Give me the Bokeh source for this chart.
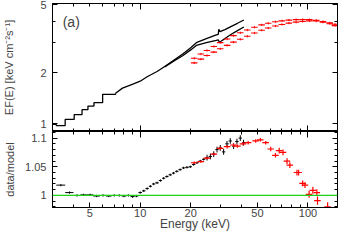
import numpy as np
from bokeh.plotting import figure
from bokeh.models import (LogAxis, LinearAxis, FixedTicker, NumeralTickFormatter,
                          Span, Label, Range1d)
from bokeh.layouts import column
from bokeh.embed import file_html
from bokeh.resources import INLINE

FONT = "Liberation Sans"

# ---------------- data ----------------
# top panel, black spectrum (low-energy stepped part, shared)
black_lo_E = [3.0, 3.16, 3.57, 4.04, 4.5, 4.88, 5.3, 5.97, 7.13]
black_lo_F = [0.99, 0.975, 1.06, 1.13, 1.21, 1.27, 1.33, 1.49, 1.51]
# black spectrum, detector A (upper)
black_a_E = [7.13, 7.84, 8.5, 9.2, 10.0, 11.0, 12.6, 14.0, 16.0, 18.0, 20.0, 21.6,
             24.8, 28.4, 29.2, 29.4, 29.9, 32.0, 34.7, 38.0, 41.5]
black_a_F = [1.51, 1.62, 1.67, 1.72, 1.78, 1.89, 2.03, 2.17, 2.38, 2.58, 2.80, 3.0,
             3.17, 3.33, 3.36, 3.6, 3.48, 3.58, 3.73, 3.9, 4.08]
# black spectrum, detector B (lower)
black_b_E = [14.0, 16.0, 18.0, 20.0, 21.6, 24.8, 28.4, 29.2, 29.6, 30.3, 32.0, 34.7, 38.0, 41.5]
black_b_F = [2.16, 2.35, 2.52, 2.72, 2.89, 3.0, 3.09, 3.12, 3.02, 3.06, 3.17, 3.35, 3.53, 3.71]

# top panel, red spectra
red_E = [21, 23, 25, 27.5, 30, 33, 36, 39.5, 43.5, 48, 53, 58, 64, 70, 77, 85, 93,
         102, 112, 123, 135, 145]
red_lo_F = [2.28, 2.40, 2.52, 2.64, 2.76, 2.89, 3.02, 3.14, 3.27, 3.42, 3.55, 3.66,
            3.76, 3.84, 3.91, 3.96, 4.0, 4.03, 4.02, 3.96, 3.88, 3.78]
red_hi_F = [2.43, 2.57, 2.70, 2.85, 3.0, 3.15, 3.3, 3.43, 3.56, 3.7, 3.82, 3.9,
            3.98, 4.03, 4.07, 4.1, 4.1, 4.1, 4.06, 4.0, 3.92, 3.85]

# bottom panel, black ratio (bin edges + values)
black_ratio_edges = [3.16, 3.57, 4.0, 4.4, 4.8, 5.25, 5.75, 6.25, 6.75, 7.25,
                     7.75, 8.25, 8.75, 9.25, 9.75, 10.25, 10.75, 11.25, 11.75, 12.3,
                     12.9, 13.5, 14.1, 14.75, 15.45, 16.15, 16.9, 17.7, 18.55, 19.45,
                     20.35, 21.3, 22.3, 23.35, 24.45, 25.6, 26.8, 28.05, 29.35, 30.7,
                     32.15, 33.65, 35.2, 36.85, 38.6, 40.4, 42.2]
black_ratio_val = [1.018, 1.005, 1.0, 1.001, 1.001, 0.999, 1.0, 0.999, 1.0, 1.0,
                   0.999, 1.0, 0.998, 0.999, 1.005, 1.008, 1.012, 1.016, 1.020, 1.022,
                   1.026, 1.030, 1.033, 1.036, 1.039, 1.042, 1.045, 1.048, 1.049, 1.050,
                   1.054, 1.057, 1.060, 1.063, 1.066, 1.068, 1.072, 1.080, 1.083, 1.076,
                   1.090, 1.095, 1.086, 1.094, 1.100, 1.092]

# bottom panel, red ratio
red_ratio_E = [21, 23, 25, 27.5, 30, 33, 36, 38, 41, 44, 48.8, 52, 56, 60, 64, 67.4,
               71, 75, 78, 86, 88, 93, 96, 101.6, 107, 113, 114, 131]
red_ratio_val = [1.057, 1.059, 1.065, 1.072, 1.082, 1.085, 1.088, 1.086, 1.090, 1.092,
                 1.095, 1.097, 1.092, 1.081, 1.070, 1.078, 1.075, 1.060, 1.053, 1.040,
                 1.040, 1.021, 1.018, 1.002, 1.009, 1.005, 0.991, 0.980]
red_ratio_err = [0.002, 0.002, 0.002, 0.002, 0.003, 0.003, 0.003, 0.003, 0.003, 0.003,
                 0.003, 0.003, 0.003, 0.004, 0.004, 0.005, 0.005, 0.005, 0.005, 0.005,
                 0.005, 0.005, 0.005, 0.006, 0.006, 0.006, 0.007, 0.008]

x_ticks_major = [10, 100]
x_ticks_minor = [3, 4, 5, 6, 7, 8, 9, 20, 30, 40, 50, 60, 70, 80, 90]
x_label_ticks = [5, 10, 20, 50, 100]
x_label_minor = [3, 4, 6, 7, 8, 9, 30, 40, 60, 70, 80, 90]
top_y_ticks = [1, 2, 5]
top_y_minor = [3, 4]
bot_y_ticks = [1, 1.05, 1.1]
bot_y_minor = [0.98, 0.99, 1.01, 1.02, 1.03, 1.04, 1.06, 1.07, 1.08, 1.09, 1.11]

RED = "#ff0000"
GREEN = "#19d219"
HW = 0.045  # relative half-width of red bins

W = 338
LEFT = 47


def style_axis(ax, show_labels, major_in, minor_in=3):
    ax.major_tick_in = major_in
    ax.major_tick_out = 0
    ax.minor_tick_in = minor_in
    ax.minor_tick_out = 0
    ax.axis_line_color = "black"
    ax.major_tick_line_color = "black"
    ax.minor_tick_line_color = "black"
    ax.major_label_text_font = FONT
    ax.axis_label_text_font = FONT
    ax.axis_label_text_font_style = "normal"
    if show_labels:
        ax.major_label_text_font_size = "11px"
        ax.major_label_standoff = 6
    else:
        ax.major_label_text_font_size = "1px"
        ax.major_label_text_color = None
        ax.major_label_standoff = 0


# ---------------- top panel ----------------
x_range = Range1d(3.0, 150.0)
p1 = figure(width=W, height=131, x_axis_type="log", y_axis_type="log",
            x_range=x_range, y_range=Range1d(0.9, 5.1),
            output_backend="svg", toolbar_location=None,
            min_border_left=LEFT, min_border_right=1, min_border_top=3,
            min_border_bottom=0)
p1.grid.visible = False
p1.outline_line_color = "black"

xb = p1.xaxis[0]
xb.ticker = FixedTicker(ticks=x_ticks_major, minor_ticks=x_ticks_minor)
style_axis(xb, False, 6)
xa = LogAxis(ticker=FixedTicker(ticks=x_ticks_major, minor_ticks=x_ticks_minor))
style_axis(xa, False, 6)
p1.add_layout(xa, "above")

yl = p1.yaxis[0]
yl.ticker = FixedTicker(ticks=top_y_ticks, minor_ticks=top_y_minor)
yl.formatter = NumeralTickFormatter(format="0")
style_axis(yl, True, 5)
yl.axis_label = "EF(E) [keV cm\u207b\u00b2s\u207b\u00b9]"
yl.axis_label_text_font_size = "11px"
yl.axis_label_standoff = 22
yr = LogAxis(ticker=FixedTicker(ticks=top_y_ticks, minor_ticks=top_y_minor))
style_axis(yr, False, 5)
p1.add_layout(yr, "right")

p1.step(black_lo_E, black_lo_F, mode="after", line_color="black", line_width=1.3)
p1.line(black_a_E, black_a_F, line_color="black", line_width=1.3)
p1.line(black_b_E, black_b_F, line_color="black", line_width=1.3)

rE = np.array(red_E, dtype=float)
for F in (np.array(red_lo_F), np.array(red_hi_F)):
    p1.segment(x0=rE * (1 - HW), x1=rE * (1 + HW), y0=F, y1=F, line_color=RED, line_width=1.1)
    p1.segment(x0=rE, x1=rE, y0=F * 0.985, y1=F * 1.015, line_color=RED, line_width=1.0)

p1.add_layout(Label(x=3.45, y=3.95, text="(a)", text_font=FONT, text_font_size="14px",
                    text_baseline="middle"))

# ---------------- bottom panel ----------------
p2 = figure(width=W, height=102, x_axis_type="log",
            x_range=x_range, y_range=Range1d(0.979, 1.1115),
            output_backend="svg", toolbar_location=None,
            min_border_left=LEFT, min_border_right=1, min_border_top=0,
            min_border_bottom=0)
p2.grid.visible = False
p2.outline_line_color = "black"

xb2 = p2.xaxis[0]
xb2.ticker = FixedTicker(ticks=x_label_ticks, minor_ticks=x_label_minor)
xb2.formatter = NumeralTickFormatter(format="0")
style_axis(xb2, True, 5)
xb2.major_label_standoff = 1
xb2.axis_label = "Energy (keV)"
xb2.axis_label_text_font_size = "12px"
xb2.axis_label_standoff = -3
xa2 = LogAxis(ticker=FixedTicker(ticks=x_ticks_major, minor_ticks=x_ticks_minor))
style_axis(xa2, False, 6)
p2.add_layout(xa2, "above")

yl2 = p2.yaxis[0]
yl2.ticker = FixedTicker(ticks=bot_y_ticks, minor_ticks=bot_y_minor)
yl2.formatter = NumeralTickFormatter(format="0.[00]")
style_axis(yl2, True, 5)
yl2.axis_label = "data/model"
yl2.axis_label_text_font_size = "11px"
yl2.axis_label_standoff = 6
yr2 = LinearAxis(ticker=FixedTicker(ticks=bot_y_ticks, minor_ticks=bot_y_minor))
style_axis(yr2, False, 5)
p2.add_layout(yr2, "right")

p2.add_layout(Span(location=1.0, dimension="width", line_color=GREEN, line_width=1.2))

edges = np.array(black_ratio_edges)
bv = np.array(black_ratio_val)
bc = 0.5 * (edges[:-1] + edges[1:])
berr = np.where(bc < 25, 0.002, 0.005)
p2.segment(x0=edges[:-1], x1=edges[1:], y0=bv, y1=bv, line_color="black", line_width=1)
p2.segment(x0=bc, x1=bc, y0=bv - berr, y1=bv + berr, line_color="black", line_width=1)

rrE = np.array(red_ratio_E, dtype=float)
rrv = np.array(red_ratio_val)
rre = np.array(red_ratio_err)
p2.segment(x0=rrE * (1 - HW), x1=rrE * (1 + HW), y0=rrv, y1=rrv, line_color=RED, line_width=1.2)
p2.segment(x0=rrE, x1=rrE, y0=rrv - rre, y1=rrv + rre, line_color=RED, line_width=1.2)

layout = column(p1, p2, spacing=0)
open("out.html", "w").write(file_html(layout, INLINE))
